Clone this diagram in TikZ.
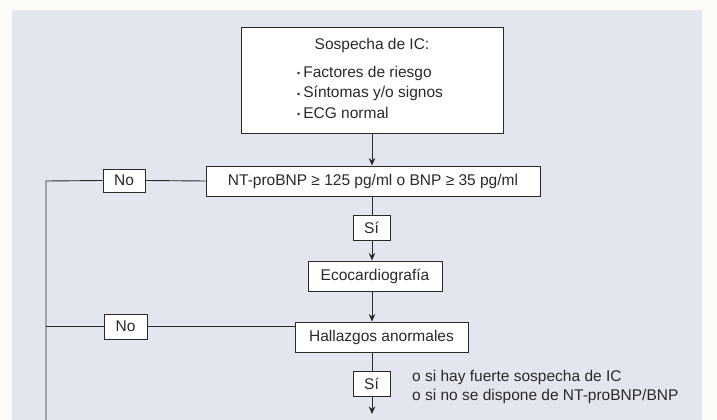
\documentclass[tikz,border=0pt]{standalone}
\usepackage{fontspec}
\setmainfont{Liberation Sans}
\usetikzlibrary{arrows.meta}
\definecolor{panel}{HTML}{E4E6EF}
\definecolor{ink}{HTML}{2A2A2A}
\definecolor{page}{HTML}{FCFCF8}
\newcommand{\mybul}{\raisebox{0.5pt}{\small•}\hspace{3pt}}
\begin{document}
\begin{tikzpicture}[x=1pt,y=-1pt,
  box/.style={draw=ink,line width=0.9pt,fill=white,inner sep=0pt,text=ink,
    font=\fontsize{15.5}{20}\selectfont},
  conn/.style={draw=ink,line width=0.9pt,line join=miter},
  arr/.style={conn,-{Stealth[length=7.5pt,width=6.5pt]}}]
\useasboundingbox (0,0) rectangle (717,420);
\fill[page] (0,0) rectangle (717,420);
\fill[panel] (12,10) rectangle (702,420);
% nodes
\node[box,minimum width=262pt,minimum height=106pt] (top) at (372,80) {};
\node[text=ink,font=\fontsize{15.5}{20}\selectfont] (title) at (372,45) {Sospecha de IC:};
\node[text=ink,font=\fontsize{15.5}{20.5}\selectfont,anchor=north west,align=left,inner sep=0pt] (list) at (297,66)
  {\mybul Factores de riesgo\\\mybul Síntomas y/o signos\\\mybul ECG normal};
\node[box,minimum width=334pt,minimum height=30pt] (nt) at (373,181) {NT-proBNP ≥ 125 pg/ml o BNP ≥ 35 pg/ml};
\node[box,minimum width=42pt,minimum height=23pt] (no1) at (124,180.5) {No};
\node[box,minimum width=37pt,minimum height=25pt] (si1) at (371.5,227.5) {Sí};
\node[box,minimum width=134pt,minimum height=30pt] (eco) at (375,276) {Ecocardiografía};
\node[box,minimum width=173pt,minimum height=30pt] (hall) at (381.5,337) {Hallazgos anormales};
\node[box,minimum width=43pt,minimum height=25pt] (no2) at (125.5,326.5) {No};
\node[box,minimum width=37pt,minimum height=25pt] (si2) at (371.5,383.5) {Sí};
\node[text=ink,font=\fontsize{15.5}{19}\selectfont,anchor=west,align=left,inner sep=0pt] (note) at (412,386.5)
  {o si hay fuerte sospecha de IC\\o si no se dispone de NT-proBNP/BNP};
\coordinate (L) at (46,181);
\coordinate (Lb) at (46,420);
\coordinate (end) at (372,414);
% connectors
\draw[arr] (top.south) -- (top.south |- nt.north);
\draw[conn] (top.south |- nt.south) -- (top.south |- si1.north);
\draw[arr] (top.south |- si1.south) -- (top.south |- eco.north);
\draw[arr] (top.south |- eco.south) -- (top.south |- hall.north);
\draw[conn] (top.south |- hall.south) -- (top.south |- si2.north);
\draw[arr] (top.south |- si2.south) -- (end);
\draw[conn] (nt.west) -- (no1.east);
\draw[conn] (no1.west) -- (L) -- (Lb);
\draw[conn] (no2.east -| hall.west) -- (no2.east);
\draw[conn] (no2.west) -- (no2.west -| L);
\end{tikzpicture}
\end{document}
